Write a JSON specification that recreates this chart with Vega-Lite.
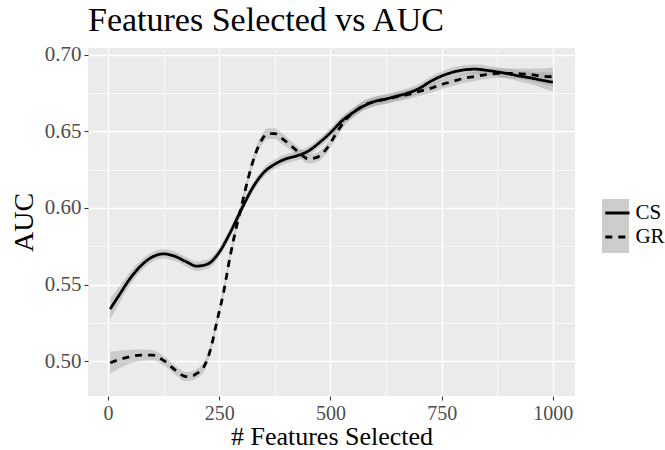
{
  "$schema": "https://vega.github.io/schema/vega-lite/v6.json",
  "width": 487,
  "height": 348,
  "autosize": {"type": "none"},
  "padding": {"left": 88, "top": 48, "right": 90, "bottom": 54},
  "background": "white",
  "config": {
    "view": {"fill": "#EBEBEB", "stroke": null},
    "font": "Liberation Serif"
  },
  "title": {
    "text": "Features Selected vs AUC",
    "anchor": "start",
    "frame": "group",
    "font": "Liberation Serif",
    "fontSize": 34,
    "fontWeight": "normal",
    "color": "black",
    "offset": 6
  },
  "datasets": {
    "curves": [
      {"series": "CS", "x": 5, "y": 0.534, "lo": 0.5272, "hi": 0.5408},
      {"series": "CS", "x": 25, "y": 0.543, "lo": 0.5375, "hi": 0.5485},
      {"series": "CS", "x": 50, "y": 0.554, "lo": 0.5498, "hi": 0.5582},
      {"series": "CS", "x": 75, "y": 0.5625, "lo": 0.559, "hi": 0.566},
      {"series": "CS", "x": 100, "y": 0.568, "lo": 0.5649, "hi": 0.5711},
      {"series": "CS", "x": 125, "y": 0.57, "lo": 0.567, "hi": 0.573},
      {"series": "CS", "x": 150, "y": 0.5685, "lo": 0.5655, "hi": 0.5715},
      {"series": "CS", "x": 175, "y": 0.565, "lo": 0.562, "hi": 0.568},
      {"series": "CS", "x": 200, "y": 0.562, "lo": 0.559, "hi": 0.565},
      {"series": "CS", "x": 225, "y": 0.5635, "lo": 0.5605, "hi": 0.5665},
      {"series": "CS", "x": 250, "y": 0.571, "lo": 0.568, "hi": 0.574},
      {"series": "CS", "x": 275, "y": 0.584, "lo": 0.581, "hi": 0.587},
      {"series": "CS", "x": 300, "y": 0.599, "lo": 0.596, "hi": 0.602},
      {"series": "CS", "x": 325, "y": 0.613, "lo": 0.61, "hi": 0.616},
      {"series": "CS", "x": 350, "y": 0.623, "lo": 0.62, "hi": 0.626},
      {"series": "CS", "x": 375, "y": 0.6285, "lo": 0.6255, "hi": 0.6315},
      {"series": "CS", "x": 400, "y": 0.632, "lo": 0.629, "hi": 0.635},
      {"series": "CS", "x": 425, "y": 0.634, "lo": 0.631, "hi": 0.637},
      {"series": "CS", "x": 450, "y": 0.637, "lo": 0.634, "hi": 0.64},
      {"series": "CS", "x": 475, "y": 0.6425, "lo": 0.6395, "hi": 0.6455},
      {"series": "CS", "x": 500, "y": 0.649, "lo": 0.646, "hi": 0.652},
      {"series": "CS", "x": 525, "y": 0.6565, "lo": 0.6535, "hi": 0.6595},
      {"series": "CS", "x": 550, "y": 0.662, "lo": 0.659, "hi": 0.665},
      {"series": "CS", "x": 575, "y": 0.6665, "lo": 0.6635, "hi": 0.6695},
      {"series": "CS", "x": 600, "y": 0.6695, "lo": 0.6665, "hi": 0.6725},
      {"series": "CS", "x": 625, "y": 0.671, "lo": 0.668, "hi": 0.674},
      {"series": "CS", "x": 650, "y": 0.673, "lo": 0.67, "hi": 0.676},
      {"series": "CS", "x": 675, "y": 0.675, "lo": 0.672, "hi": 0.678},
      {"series": "CS", "x": 700, "y": 0.678, "lo": 0.675, "hi": 0.681},
      {"series": "CS", "x": 725, "y": 0.6825, "lo": 0.6795, "hi": 0.6855},
      {"series": "CS", "x": 750, "y": 0.686, "lo": 0.683, "hi": 0.689},
      {"series": "CS", "x": 775, "y": 0.6885, "lo": 0.6855, "hi": 0.6915},
      {"series": "CS", "x": 800, "y": 0.69, "lo": 0.687, "hi": 0.693},
      {"series": "CS", "x": 825, "y": 0.6905, "lo": 0.6875, "hi": 0.6935},
      {"series": "CS", "x": 850, "y": 0.6898, "lo": 0.6868, "hi": 0.6928},
      {"series": "CS", "x": 875, "y": 0.6887, "lo": 0.6857, "hi": 0.6917},
      {"series": "CS", "x": 900, "y": 0.6875, "lo": 0.6843, "hi": 0.6907},
      {"series": "CS", "x": 925, "y": 0.686, "lo": 0.6825, "hi": 0.6895},
      {"series": "CS", "x": 950, "y": 0.6848, "lo": 0.6808, "hi": 0.6888},
      {"series": "CS", "x": 975, "y": 0.6833, "lo": 0.6783, "hi": 0.6883},
      {"series": "CS", "x": 1000, "y": 0.682, "lo": 0.6757, "hi": 0.6883},
      {"series": "GR", "x": 5, "y": 0.499, "lo": 0.4918, "hi": 0.5062},
      {"series": "GR", "x": 25, "y": 0.501, "lo": 0.4952, "hi": 0.5068},
      {"series": "GR", "x": 50, "y": 0.503, "lo": 0.4985, "hi": 0.5075},
      {"series": "GR", "x": 75, "y": 0.504, "lo": 0.5003, "hi": 0.5077},
      {"series": "GR", "x": 100, "y": 0.504, "lo": 0.5007, "hi": 0.5073},
      {"series": "GR", "x": 125, "y": 0.5005, "lo": 0.4975, "hi": 0.5035},
      {"series": "GR", "x": 150, "y": 0.4945, "lo": 0.4915, "hi": 0.4975},
      {"series": "GR", "x": 175, "y": 0.49, "lo": 0.487, "hi": 0.493},
      {"series": "GR", "x": 190, "y": 0.4905, "lo": 0.4875, "hi": 0.4935},
      {"series": "GR", "x": 200, "y": 0.492, "lo": 0.489, "hi": 0.495},
      {"series": "GR", "x": 215, "y": 0.496, "lo": 0.493, "hi": 0.499},
      {"series": "GR", "x": 230, "y": 0.507, "lo": 0.504, "hi": 0.51},
      {"series": "GR", "x": 245, "y": 0.526, "lo": 0.523, "hi": 0.529},
      {"series": "GR", "x": 260, "y": 0.545, "lo": 0.542, "hi": 0.548},
      {"series": "GR", "x": 275, "y": 0.569, "lo": 0.566, "hi": 0.572},
      {"series": "GR", "x": 290, "y": 0.589, "lo": 0.586, "hi": 0.592},
      {"series": "GR", "x": 300, "y": 0.601, "lo": 0.598, "hi": 0.604},
      {"series": "GR", "x": 315, "y": 0.619, "lo": 0.616, "hi": 0.622},
      {"series": "GR", "x": 330, "y": 0.634, "lo": 0.6305, "hi": 0.6375},
      {"series": "GR", "x": 345, "y": 0.644, "lo": 0.6405, "hi": 0.6475},
      {"series": "GR", "x": 360, "y": 0.6485, "lo": 0.645, "hi": 0.652},
      {"series": "GR", "x": 375, "y": 0.6485, "lo": 0.645, "hi": 0.652},
      {"series": "GR", "x": 390, "y": 0.6455, "lo": 0.642, "hi": 0.649},
      {"series": "GR", "x": 410, "y": 0.641, "lo": 0.6378, "hi": 0.6442},
      {"series": "GR", "x": 430, "y": 0.636, "lo": 0.633, "hi": 0.639},
      {"series": "GR", "x": 450, "y": 0.632, "lo": 0.629, "hi": 0.635},
      {"series": "GR", "x": 470, "y": 0.633, "lo": 0.63, "hi": 0.636},
      {"series": "GR", "x": 490, "y": 0.638, "lo": 0.635, "hi": 0.641},
      {"series": "GR", "x": 510, "y": 0.647, "lo": 0.644, "hi": 0.65},
      {"series": "GR", "x": 530, "y": 0.656, "lo": 0.653, "hi": 0.659},
      {"series": "GR", "x": 555, "y": 0.663, "lo": 0.66, "hi": 0.666},
      {"series": "GR", "x": 575, "y": 0.667, "lo": 0.664, "hi": 0.67},
      {"series": "GR", "x": 600, "y": 0.6695, "lo": 0.6665, "hi": 0.6725},
      {"series": "GR", "x": 625, "y": 0.671, "lo": 0.668, "hi": 0.674},
      {"series": "GR", "x": 650, "y": 0.6725, "lo": 0.6695, "hi": 0.6755},
      {"series": "GR", "x": 675, "y": 0.674, "lo": 0.671, "hi": 0.677},
      {"series": "GR", "x": 700, "y": 0.676, "lo": 0.673, "hi": 0.679},
      {"series": "GR", "x": 725, "y": 0.678, "lo": 0.675, "hi": 0.681},
      {"series": "GR", "x": 750, "y": 0.6805, "lo": 0.6775, "hi": 0.6835},
      {"series": "GR", "x": 775, "y": 0.6825, "lo": 0.6795, "hi": 0.6855},
      {"series": "GR", "x": 800, "y": 0.6845, "lo": 0.6815, "hi": 0.6875},
      {"series": "GR", "x": 825, "y": 0.6858, "lo": 0.6828, "hi": 0.6888},
      {"series": "GR", "x": 850, "y": 0.687, "lo": 0.684, "hi": 0.69},
      {"series": "GR", "x": 875, "y": 0.6877, "lo": 0.6847, "hi": 0.6907},
      {"series": "GR", "x": 900, "y": 0.6878, "lo": 0.6846, "hi": 0.691},
      {"series": "GR", "x": 925, "y": 0.6875, "lo": 0.684, "hi": 0.691},
      {"series": "GR", "x": 950, "y": 0.687, "lo": 0.683, "hi": 0.691},
      {"series": "GR", "x": 975, "y": 0.686, "lo": 0.681, "hi": 0.691},
      {"series": "GR", "x": 1000, "y": 0.6855, "lo": 0.6792, "hi": 0.6918}
    ]
  },
  "data": {"name": "curves"},
  "layer": [
    {
      "mark": {"type": "area", "interpolate": "monotone", "fillOpacity": 0.4},
      "encoding": {
        "x": {
          "field": "x", "type": "quantitative",
          "scale": {"domain": [-44.75, 1049.75], "nice": false, "zero": false},
          "axis": {
            "values": [0, 125, 250, 375, 500, 625, 750, 875, 1000],
            "format": "d",
            "labelExpr": "datum.value % 250 === 0 ? datum.label : ''",
            "title": "# Features Selected",
            "titleFont": "Liberation Serif", "titleFontSize": 26, "titleFontWeight": "normal", "titleColor": "black",
            "labelFont": "Liberation Serif", "labelFontSize": 20, "labelColor": "#4D4D4D",
            "labelPadding": 3, "titlePadding": 0,
            "domain": false,
            "tickColor": "#333333", "tickSize": 4, "tickWidth": 1.1,
            "tickOpacity": {"condition": {"test": "datum.value % 250 !== 0", "value": 0}, "value": 1},
            "grid": true, "gridColor": "white",
            "gridWidth": {"condition": {"test": "datum.value % 250 !== 0", "value": 0.7}, "value": 1.4}
          }
        },
        "y": {
          "field": "lo", "type": "quantitative",
          "scale": {"domain": [0.4773, 0.7043], "nice": false, "zero": false},
          "axis": {
            "values": [0.5, 0.525, 0.55, 0.575, 0.6, 0.625, 0.65, 0.675, 0.7],
            "format": ".2f",
            "labelExpr": "abs(datum.value*100 - round(datum.value*20)*5) > 0.1 ? '' : datum.label",
            "title": "AUC",
            "titleFont": "Liberation Serif", "titleFontSize": 28, "titleFontWeight": "normal", "titleColor": "black",
            "labelFont": "Liberation Serif", "labelFontSize": 21, "labelColor": "#4D4D4D",
            "labelPadding": 3, "titlePadding": 6,
            "domain": false,
            "tickColor": "#333333", "tickSize": 4, "tickWidth": 1.1,
            "tickOpacity": {"condition": {"test": "abs(datum.value*100 - round(datum.value*20)*5) > 0.1", "value": 0}, "value": 1},
            "grid": true, "gridColor": "white",
            "gridWidth": {"condition": {"test": "abs(datum.value*100 - round(datum.value*20)*5) > 0.1", "value": 0.7}, "value": 1.4}
          }
        },
        "y2": {"field": "hi"},
        "fill": {
          "field": "series", "type": "nominal",
          "scale": {"domain": ["CS", "GR"], "range": ["#999999", "#999999"]},
          "legend": {
            "orient": "none", "legendX": 514, "legendY": 151,
            "title": null, "symbolType": "square", "symbolSize": 729,
            "symbolStrokeWidth": 0, "symbolOpacity": 0.49, "labelExpr": "''", "labelFontSize": 21,
            "labelFont": "Liberation Serif", "padding": 0, "rowPadding": 0, "zindex": 0,
            "encode": {"symbols": {"enter": {"opacity": {"value": 0.49}}, "update": {"opacity": {"value": 0.49}}}}
          }
        }
      }
    },
    {
      "mark": {"type": "line", "interpolate": "monotone", "color": "black", "strokeWidth": 2.8},
      "encoding": {
        "x": {"field": "x", "type": "quantitative"},
        "y": {"field": "y", "type": "quantitative", "title": "AUC"},
        "strokeDash": {
          "field": "series", "type": "nominal",
          "scale": {"range": [[1, 0], [7, 6]]},
          "legend": {
            "orient": "none", "legendX": 515.4, "legendY": 151,
            "title": null, "symbolType": "stroke", "symbolSize": 586,
            "symbolStrokeWidth": 2.8, "symbolStrokeColor": "black",
            "labelFont": "Liberation Serif", "labelFontSize": 21, "labelColor": "black",
            "labelOffset": 4, "padding": 0, "rowPadding": 0, "zindex": 1
          }
        }
      }
    }
  ]
}
